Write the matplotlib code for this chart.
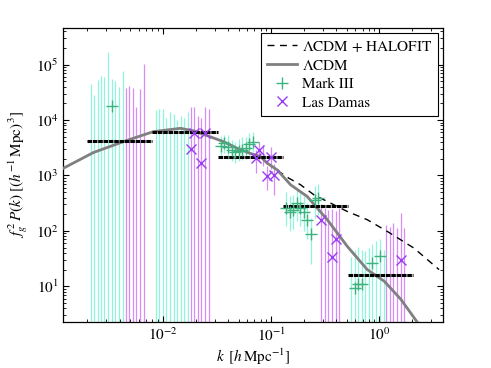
import numpy as np
import matplotlib
matplotlib.use('Agg')
import matplotlib.pyplot as plt

plt.rcParams['font.family'] = 'serif'
plt.rcParams['font.serif'] = ['STIXGeneral', 'Liberation Serif', 'DejaVu Serif']
plt.rcParams['mathtext.fontset'] = 'stix'

nan = np.nan
FLOOR = 1.0  # lower end of error bars that run off the bottom of the plot

# ---------------- Mark III (peculiar velocity) ----------------
mk_k = [2.15e-3, 2.31e-3, 2.50e-3, 2.69e-3, 2.88e-3, 3.13e-3, 3.37e-3, 3.64e-3, 3.94e-3, 4.26e-3,
        8.60e-3, 9.24e-3, 1.00e-2, 1.076e-2, 1.152e-2, 1.252e-2, 1.348e-2, 1.456e-2, 1.576e-2, 1.704e-2,
        3.44e-2, 3.70e-2, 4.00e-2, 4.30e-2, 4.61e-2, 5.01e-2, 5.39e-2, 5.82e-2, 6.30e-2, 6.82e-2,
        0.1376, 0.1478, 0.160, 0.172, 0.184, 0.200, 0.216, 0.233, 0.252, 0.273,
        0.550, 0.591, 0.640, 0.689, 0.737, 0.801, 0.863, 0.932, 1.009, 1.091]
mk_P = [nan, nan, nan, nan, nan, nan, 1.8e4, nan, nan, nan,
        nan, nan, nan, nan, nan, nan, nan, nan, nan, nan,
        3.4e3, 3.9e3, 3.3e3, 2.9e3, 2.65e3, 2.8e3, 2.9e3, 3.1e3, 3.7e3, 4.0e3,
        260, 220, 240, 320, 260, 220, 160, 89, 360, 395,
        nan, 9.4, 10.8, 10.8, nan, nan, 26.5, nan, 34.8, nan]
mk_hi = [4.4e4, 2.8e4, 5.2e4, 6.2e4, 5.9e4, 1.7e5, 5.5e4, 5.0e4, 3.9e4, 7.7e4,
         1.5e4, 1.6e4, 1.6e4, 1.1e4, 1.4e4, 1.3e4, 1.0e4, 1.2e4, 1.1e4, 1.4e4,
         5.1e3, 5.4e3, 5.3e3, 4.4e3, 4.0e3, 4.5e3, 4.9e3, 5.0e3, 5.9e3, 6.0e3,
         500, 420, 450, 600, 480, 420, 320, 170, 650, 700,
         34, 46, 52, 46, 43, 49, 57, 65, 70, 46]
mk_lo = [FLOOR] * 20 + \
        [2.2e3, 2.5e3, 2.0e3, 1.8e3, 1.7e3, 1.8e3, 1.9e3, 2.0e3, 2.3e3, 2.6e3] + \
        [120, 100, 110, 150, 120, 100, 70, 25, 170, 190] + \
        [FLOOR] * 10

# ---------------- Las Damas (simulations) ----------------
ld_k = [4.54e-3, 4.87e-3, 5.27e-3, 5.66e-3, 6.17e-3, 6.61e-3,
        1.816e-2, 1.948e-2, 2.108e-2, 2.264e-2, 2.468e-2, 2.644e-2,
        7.26e-2, 7.79e-2, 8.43e-2, 9.06e-2, 9.87e-2, 0.1058,
        0.2906, 0.3117, 0.3373, 0.3622, 0.3949, 0.4230,
        1.162, 1.247, 1.349, 1.449, 1.580, 1.692]
ld_P = [nan, nan, nan, nan, nan, nan,
        3.0e3, 5.8e3, nan, 1.7e3, 5.8e3, nan,
        2.05e3, 2.9e3, nan, 985, 2.2e3, 1.03e3,
        159, nan, nan, 34, 72, nan,
        nan, nan, nan, nan, 30, nan]
ld_hi = [3.8e4, 4.1e4, 3.8e4, 1.7e4, 3.7e4, 1.05e5,
         1.7e4, 1.7e4, 1.2e4, 1.1e4, 1.7e4, 1.6e4,
         2.9e3, 4.0e3, 3.5e3, 1.5e3, 3.2e3, 1.6e3,
         300, 260, 240, 250, 230, 260,
         129, 119, 141, 111, 214, 114]
ld_lo = [FLOOR] * 12 + [1.1e3, 1.8e3, 1.5e3, 550, 1.3e3, 450] + [FLOOR] * 12

# ---------------- binned estimate ----------------
bin_edges = [2.0e-3, 8.0e-3, 3.2e-2, 0.128, 0.512, 2.05]
bin_P = [4.2e3, 6.1e3, 2.2e3, 276, 15.8]

# ---------------- theory curves ----------------
lin_k = [1.2e-3, 2.28e-3, 4.64e-3, 8.2e-3, 1.45e-2, 1.92e-2, 2.73e-2, 3.6e-2, 4.84e-2, 6.43e-2,
         7.96e-2, 9.18e-2, 0.1137, 0.151, 0.215, 0.330, 0.505, 0.772, 1.11, 1.58, 2.22]
lin_P = [1.35e3, 2.6e3, 4.3e3, 6.2e3, 7.1e3, 6.4e3, 5.0e3, 4.1e3, 3.1e3, 2.5e3,
         2.2e3, 1.67e3, 1.26e3, 680, 418, 159, 52.5, 20, 12.3, 5.8, 2.3]
hf_k = [0.0918, 0.1176, 0.1456, 0.1867, 0.248, 0.350, 0.505, 0.772, 1.18, 2.08, 3.56]
hf_P = [1.67e3, 1.18e3, 893, 680, 448, 320, 224, 159, 98, 49, 20]

fig = plt.figure(figsize=(4.91, 3.68), dpi=100)
ax = fig.add_axes([0.129, 0.126, 0.774, 0.798])
ax.set_xscale('log')
ax.set_yscale('log')

c_mk_bar = '#8ff5dc'
c_ld_bar = '#d98cf5'
c_mk = '#3cb37e'
c_ld = '#9b3cf0'

ax.vlines(mk_k, mk_lo, mk_hi, color=c_mk_bar, lw=0.9, zorder=1)
ax.vlines(ld_k, ld_lo, ld_hi, color=c_ld_bar, lw=0.9, zorder=1)

ax.plot(hf_k, hf_P, color='black', ls=(0, (5, 4)), lw=1.0, zorder=2,
        label=r'$\Lambda$CDM + HALOFIT')
ax.plot(lin_k, lin_P, color='#808080', lw=2.0, zorder=3, label=r'$\Lambda$CDM')

for i in range(len(bin_P)):
    ax.plot([bin_edges[i], bin_edges[i + 1]], [bin_P[i], bin_P[i]], color='black',
            lw=2.2, ls=(0, (1.5, 0.25)), solid_capstyle='butt', zorder=4)

ax.plot(mk_k, mk_P, ls='none', marker='+', ms=8, mew=1.0, color=c_mk, zorder=5, label='Mark III')
ax.plot(ld_k, ld_P, ls='none', marker='x', ms=7, mew=1.0, color=c_ld, zorder=5, label='Las Damas')

ax.set_xlim(1.2e-3, 3.9)
ax.set_ylim(2.3, 4.6e5)

ax.tick_params(which='both', direction='in', top=True, right=True, labelsize=11)
ax.tick_params(which='major', length=4, width=0.8)
ax.tick_params(which='minor', length=2, width=0.6)
for s in ax.spines.values():
    s.set_linewidth(0.9)

ax.set_xlabel(r'$k\;\;[h\,\mathrm{Mpc}^{-1}]$', fontsize=11, labelpad=2)
ax.set_ylabel(r'$f_g^{\,2}\,P(k)\;[(h^{-1}\,\mathrm{Mpc})^3]$', fontsize=11, labelpad=4)

leg = ax.legend(loc='upper right', bbox_to_anchor=(0.987, 0.984), borderaxespad=0,
                fontsize=11, frameon=True, fancybox=False, framealpha=1,
                edgecolor='black', labelspacing=0.32, handlelength=2.0,
                handletextpad=0.3, borderpad=0.4)
leg.get_frame().set_linewidth(0.8)

fig.savefig('out.png', dpi=100)
